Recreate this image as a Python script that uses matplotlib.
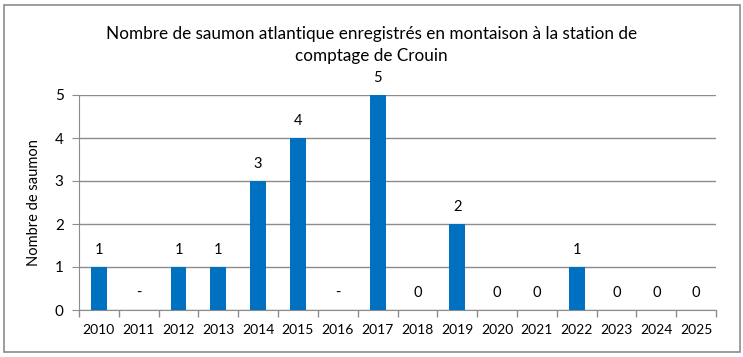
import numpy as np
import matplotlib.pyplot as plt
from matplotlib.patches import Rectangle

plt.rcParams['font.family'] = ['Lato', 'DejaVu Sans']

years = ['2010', '2011', '2012', '2013', '2014', '2015', '2016', '2017',
         '2018', '2019', '2020', '2021', '2022', '2023', '2024', '2025']
counts = [1, None, 1, 1, 3, 4, None, 5, 0, 2, 0, 0, 1, 0, 0, 0]

title = "Nombre de saumon atlantique enregistrés en montaison à la station de\ncomptage de Crouin"
ylabel = "Nombre de saumon"

bar_color = '#0070C0'
grid_color = '#8c8c8c'

fig = plt.figure(figsize=(7.43, 3.57), dpi=100)
ax = fig.add_axes([79 / 743, 1 - 310 / 357, 637 / 743, 215 / 357])

x = np.arange(len(years))
vals = [v if v is not None else 0 for v in counts]
ax.bar(x, vals, width=0.4, color=bar_color, zorder=3)

# data labels, "-" for years without data
for xi, v in zip(x, counts):
    lab = '-' if v is None else str(v)
    y = 0 if v is None else v
    ax.annotate(lab, (xi, y), xytext=(0, 17), textcoords='offset pixels',
                ha='center', va='center', fontsize=10.5, color='black')

ax.set_xlim(-0.5, len(years) - 0.5)
ax.set_ylim(0, 5)
ax.set_yticks(range(6))
ax.set_xticks(x)
ax.set_xticklabels(years)
ax.set_xticks(np.arange(-0.5, len(years)), minor=True)
ax.tick_params(axis='x', which='major', length=0, pad=10, labelsize=10)
ax.tick_params(axis='x', which='minor', length=5, color=grid_color, width=1)
ax.tick_params(axis='y', length=5, color=grid_color, labelsize=11, pad=6)
ax.yaxis.grid(True, color=grid_color, linewidth=1, zorder=0)

for s in ['top', 'right']:
    ax.spines[s].set_visible(False)
for s in ['left', 'bottom']:
    ax.spines[s].set_color(grid_color)

ax.set_ylabel(ylabel, fontsize=10.5, labelpad=10)
fig.text(0.5, 1 - 45 / 357, title, ha='center', va='center', fontsize=12.3, linespacing=1.5)

fig.patches.append(Rectangle((4 / 743, 5 / 357), 736 / 743, 347 / 357, transform=fig.transFigure,
                             fill=False, edgecolor='#8c8c8c', linewidth=1.2))

fig.savefig('out.png', dpi=100)
